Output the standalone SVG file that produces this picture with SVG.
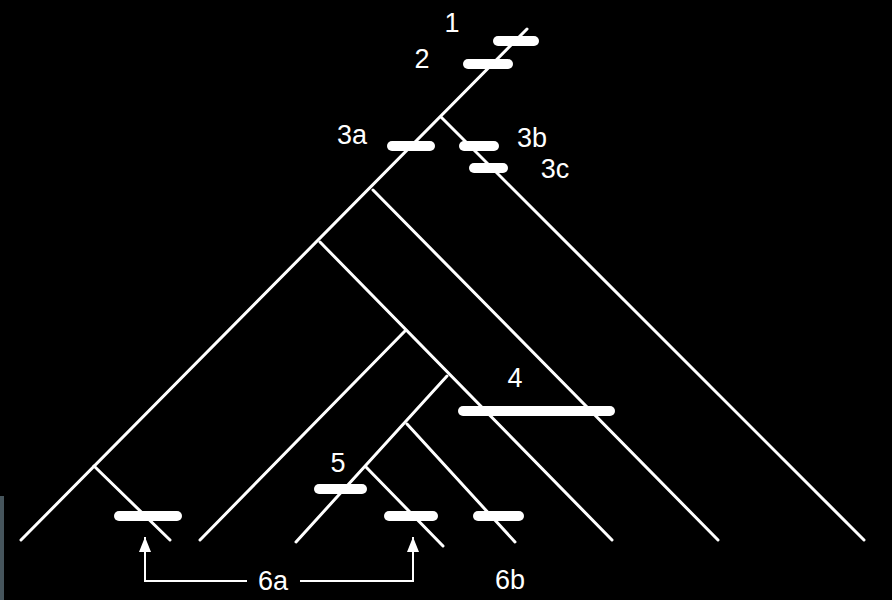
<svg xmlns="http://www.w3.org/2000/svg" width="892" height="600" viewBox="0 0 892 600">
<defs>
<style>
.br{stroke:#fff;stroke-width:3;stroke-linecap:round;fill:none}
.bar{stroke:#fff;stroke-width:10;stroke-linecap:round;fill:none}
.ar{stroke:#fff;stroke-width:2;fill:none}
.lb{fill:#fff;font-family:"Liberation Sans",Arial,sans-serif;font-size:27px;text-anchor:middle}
</style>
<marker id="ah" markerWidth="16" markerHeight="12" refX="15" refY="6" orient="auto" markerUnits="userSpaceOnUse" viewBox="0 0 16 12">
<path d="M0,0 L15,6 L0,12 Z" fill="#fff"/>
</marker>
</defs>
<rect width="892" height="600" fill="#000"/>
<rect x="0" y="496" width="4" height="104" fill="#46555c"/>
<g id="connectors">
<line class="br" x1="21" y1="540" x2="527" y2="29"/>
<line class="br" x1="441" y1="117" x2="864" y2="540"/>
<line class="br" x1="373" y1="190" x2="718" y2="540"/>
<line class="br" x1="320" y1="242" x2="612" y2="540"/>
<line class="br" x1="405" y1="331" x2="200" y2="540"/>
<line class="br" x1="447" y1="376" x2="296" y2="542"/>
<line class="br" x1="407" y1="424" x2="515" y2="542"/>
<line class="br" x1="366" y1="467" x2="443" y2="546"/>
<line class="br" x1="94" y1="466" x2="170" y2="540"/>
<path class="ar" d="M247,581 H145 V537" marker-end="url(#ah)"/>
<path class="ar" d="M300,581 H413 V537" marker-end="url(#ah)"/>
</g>
<g id="bar1"><line class="bar" x1="498" y1="41" x2="534" y2="41"/><text class="lb" x="452" y="32">1</text></g>
<g id="bar2"><line class="bar" x1="468" y1="64" x2="508" y2="64"/><text class="lb" x="422" y="68">2</text></g>
<g id="bar3a"><line class="bar" x1="392" y1="146" x2="430" y2="146"/><text class="lb" x="352" y="144">3a</text></g>
<g id="bar3b"><line class="bar" x1="464" y1="146" x2="494" y2="146"/><text class="lb" x="532" y="147">3b</text></g>
<g id="bar3c"><line class="bar" x1="474" y1="168" x2="503" y2="168"/><text class="lb" x="555" y="178">3c</text></g>
<g id="bar4"><line class="bar" x1="463" y1="411" x2="610" y2="411"/><text class="lb" x="515" y="387">4</text></g>
<g id="bar5"><line class="bar" x1="319" y1="489" x2="362" y2="489"/><text class="lb" x="338" y="472">5</text></g>
<g id="bar6a-left"><line class="bar" x1="119" y1="516" x2="177" y2="516"/></g>
<g id="bar6a-right"><line class="bar" x1="389" y1="516" x2="433" y2="516"/></g>
<g id="bar6b"><line class="bar" x1="478" y1="516" x2="519" y2="516"/><text class="lb" x="510" y="589">6b</text></g>
<g id="label6a"><text class="lb" x="273" y="590">6a</text></g>
</svg>
